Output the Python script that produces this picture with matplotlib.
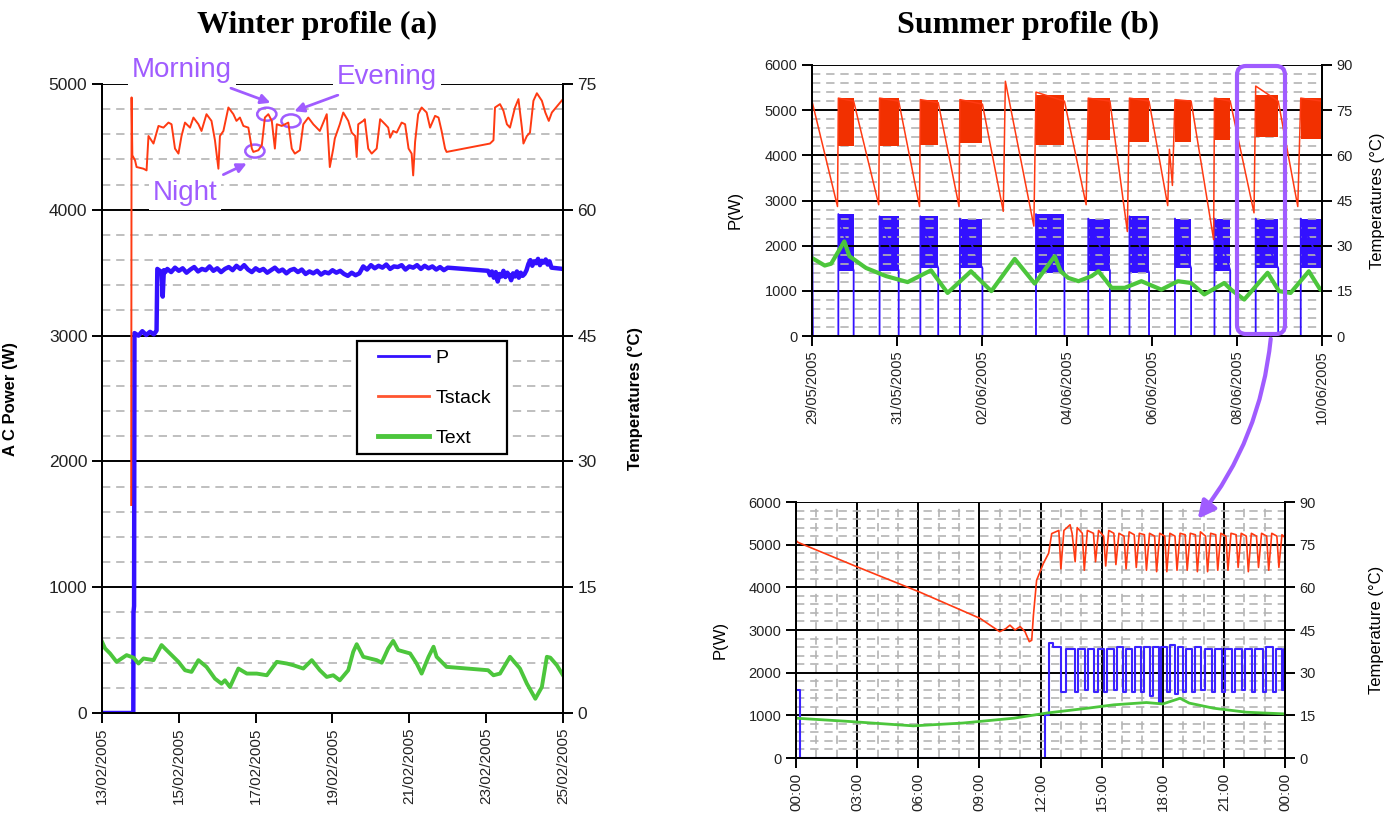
import matplotlib.pyplot as plt
import numpy as np
from matplotlib.lines import Line2D
from matplotlib.patches import Ellipse, FancyBboxPatch, FancyArrowPatch, Rectangle
from matplotlib.ticker import MultipleLocator
from matplotlib.transforms import IdentityTransform

plt.rcParams['font.family'] = ['Liberation Sans', 'DejaVu Sans']

W, H = 1397, 832
P_BLUE = '#3311ff'
T_RED = '#ff3a12'
GREEN = '#4cc63c'
PURPLE = '#a05cff'
GRID_MINOR = '#b4b4b4'

# ---------------- winter profile, x in days from 13/02/2005 ----------------
winter_ticks = [0, 2, 4, 6, 8, 10, 12]
winter_labels = ['13/02/2005', '15/02/2005', '17/02/2005', '19/02/2005',
                 '21/02/2005', '23/02/2005', '25/02/2005']

# AC power: start-up steps, then the noisy plateau sections
winter_p_day = [0, 0.815, 0.82, 0.835, 0.845, 0.95, 1.05, 1.15, 1.25, 1.35,
                1.42, 1.44, 1.55, 1.58, 1.61, 1.65]
winter_p = [0, 0, 800, 850, 3020, 3000, 3035, 3005, 3030, 3010,
            3040, 3530, 3505, 3310, 3520, 3505]
winter_p_run1 = [3530, 3505, 3540, 3515, 3535, 3500, 3525, 3545, 3510, 3530, 3520,
                 3550, 3515, 3535, 3505, 3530, 3545, 3520, 3555, 3530, 3560,
                 3525, 3505, 3535, 3515, 3530, 3500, 3520, 3540, 3510, 3525, 3495,
                 3520, 3530, 3505, 3525, 3490, 3510, 3495, 3515, 3485, 3505, 3495,
                 3520, 3500, 3515,
                 3490, 3475, 3500, 3480, 3495,
                 3550, 3525, 3560, 3535, 3555, 3540, 3565, 3530, 3550, 3545, 3560,
                 3525, 3550, 3540, 3560, 3530, 3555, 3535, 3550, 3525, 3545, 3520, 3540]
winter_p_run2 = [3480, 3510, 3460, 3505, 3430, 3490, 3470, 3515, 3465, 3500,
                 3480, 3440, 3495, 3470, 3510, 3460, 3500, 3475, 3490, 3520]
winter_p_run3 = [3570, 3600, 3555, 3590, 3575, 3610, 3560, 3595, 3580, 3605, 3565, 3590]
winter_p_tail_day = [11.7, 12.0]
winter_p_tail = [3540, 3530]

winter_t_day = [0.76, 0.77, 0.79, 0.86, 0.90, 1.08, 1.16, 1.21, 1.34, 1.47, 1.60, 1.73,
                1.81, 1.90, 1.99, 2.07, 2.16, 2.29, 2.38, 2.51, 2.59, 2.72, 2.85, 2.94,
                3.03, 3.07, 3.16, 3.29, 3.42, 3.50, 3.59, 3.68, 3.81, 3.90, 3.94, 4.07,
                4.16, 4.24, 4.33, 4.42, 4.50, 4.55, 4.68, 4.85, 4.94, 5.02, 5.15, 5.24,
                5.37, 5.50, 5.67, 5.85, 5.93, 6.02, 6.06, 6.19, 6.28, 6.41, 6.50, 6.59,
                6.63, 6.67, 6.80, 6.84, 6.93, 7.02, 7.15, 7.24, 7.37, 7.45, 7.50, 7.58,
                7.67, 7.80, 7.89, 7.98, 8.06, 8.10, 8.15, 8.23, 8.32, 8.45, 8.54, 8.67,
                8.76, 8.84, 8.93, 8.97, 10.10, 10.19, 10.23, 10.36, 10.45, 10.54, 10.62,
                10.75, 10.84, 10.93, 10.97, 11.06, 11.14, 11.23, 11.32, 11.45, 11.54,
                11.63, 11.71, 12.0]
winter_t = [24.8, 73.4, 66.5, 65.9, 65.1, 64.9, 64.7, 68.8, 67.9, 70.0, 69.8, 70.4,
            70.2, 67.3, 66.7, 68.8, 70.4, 69.8, 71.0, 70.2, 69.4, 71.4, 70.6, 68.3,
            64.9, 68.8, 69.4, 72.2, 71.4, 70.6, 71.0, 70.0, 69.8, 67.3, 66.9, 67.1,
            67.7, 71.0, 71.4, 70.6, 67.3, 70.2, 70.0, 70.4, 67.3, 66.7, 67.1, 70.2,
            71.0, 70.2, 69.4, 71.4, 65.1, 67.3, 68.5, 70.2, 71.6, 70.6, 69.2, 68.8,
            66.3, 70.2, 70.6, 70.8, 67.3, 66.7, 67.3, 70.8, 70.2, 69.8, 68.6, 69.4,
            69.2, 70.4, 70.2, 67.3, 66.7, 64.1, 68.1, 71.4, 72.2, 71.6, 69.8, 71.2,
            71.0, 69.4, 67.3, 66.9, 67.9, 68.3, 72.2, 72.6, 71.8, 70.2, 69.8,
            72.2, 73.2, 69.8, 67.9, 68.8, 69.2, 73.0, 73.9, 73.0, 71.6,
            70.6, 71.6, 73.2]

winter_ext_day = [0, 0.08, 0.21, 0.38, 0.64, 0.82, 0.95, 1.08, 1.34, 1.55, 1.68, 1.99,
                  2.16, 2.33, 2.51, 2.72, 2.94, 3.11, 3.20, 3.33, 3.55, 3.77, 4.03, 4.29,
                  4.55, 4.81, 4.98, 5.24, 5.46, 5.67, 5.85, 6.02, 6.19, 6.41, 6.54, 6.63,
                  6.80, 7.15, 7.28, 7.45, 7.58, 7.71, 8.02, 8.19, 8.32, 8.50, 8.63, 8.71,
                  8.97, 10.05, 10.19, 10.36, 10.62, 10.88, 11.06, 11.28, 11.45, 11.58,
                  11.67, 11.84, 12.0]
winter_ext = [8.5, 7.7, 7.1, 6.1, 6.9, 6.6, 5.9, 6.5, 6.3, 8.1, 7.5, 6.1,
              5.1, 4.9, 6.3, 5.5, 4.1, 3.5, 3.9, 3.1, 5.3, 4.7, 4.7, 4.5,
              6.1, 5.9, 5.7, 5.3, 6.3, 5.1, 4.3, 4.5, 3.9, 5.1, 7.3, 8.2,
              6.7, 6.3, 6.0, 7.7, 8.6, 7.5, 7.1, 5.9, 4.7, 6.7, 7.9, 6.7,
              5.5, 5.1, 4.5, 4.7, 6.7, 5.3, 3.5, 1.7, 3.1, 6.7,
              6.6, 5.7, 4.5]

# ---------------- summer profile, x in days from 29/05/2005 ----------------
summer_ticks = [0, 2, 4, 6, 8, 10, 12]
summer_labels = ['29/05/2005', '31/05/2005', '02/06/2005', '04/06/2005',
                 '06/06/2005', '08/06/2005', '10/06/2005']

# daily operating periods: the stack cycles between a low and high level
summer_on = [0.62, 1.59, 2.55, 3.48, 5.27, 6.50, 7.47, 8.54, 9.47, 10.44, 11.50]
summer_off = [0.98, 2.04, 2.97, 4.01, 5.94, 7.01, 7.93, 8.92, 9.84, 10.97, 12.0]
summer_p_low = [1450, 1450, 1500, 1500, 1400, 1450, 1400, 1500, 1450, 1500, 1500]
summer_p_high = [2700, 2650, 2650, 2600, 2700, 2600, 2650, 2600, 2600, 2600, 2600]
summer_t_low = [63, 63, 63.5, 64, 63.5, 65, 64.5, 64.5, 65, 66, 65.5]
summer_t_high = [79, 79, 78.5, 78.5, 80, 79, 79, 78.5, 79, 80, 79]

summer_t_day = [0.00, 0.00, 0.60, 0.62, 0.98, 1.57, 1.59, 2.04, 2.53, 2.55, 2.97, 3.46,
                3.48, 4.01, 4.50, 4.55, 5.22, 5.27, 5.94, 6.45, 6.50, 7.01, 7.42, 7.47,
                7.93, 8.37, 8.41, 8.48, 8.54, 8.92, 9.45, 9.47, 9.84, 10.40, 10.44,
                10.97, 11.43, 11.50, 12.0]
summer_t = [66, 78, 43, 79, 78, 43.6, 79, 78, 43, 78.5, 77.5, 43,
            78.5, 77, 41.4, 84.6, 36.5, 81, 78, 43.6, 79, 78, 34.7, 79,
            78, 43.3, 62, 50, 78.5, 78, 32, 79, 78, 40.9, 83,
            78, 43, 79, 78]
summer_p_start_day = [0.0, 0.01, 0.02]
summer_p_start = [2650, 1600, 0]

summer_ext_day = [0, 0.30, 0.45, 0.76, 0.88, 1.27, 1.74, 2.25, 2.80, 3.19, 3.74, 4.22,
                  4.77, 5.24, 5.71, 5.85, 6.03, 6.27, 6.58, 6.74, 7.05, 7.36, 7.75, 8.22,
                  8.61, 8.92, 9.23, 9.70, 9.86, 10.17, 10.72, 10.99, 11.26, 11.69, 11.96,
                  12.0]
summer_ext = [25.9, 23.4, 24.0, 31.4, 26.5, 22.6, 19.9, 17.9, 21.8, 14.3, 21.5, 14.9,
              25.6, 17.4, 26.5, 21.5, 19.3, 18.2, 19.9, 21.5, 16.0, 16.0, 18.2, 15.4,
              18.2, 17.6, 13.8, 17.6, 15.4, 12.1, 21.0, 14.9, 14.3, 21.5, 15.4,
              15.2]

# ---------------- one summer day (08/06/2005), x in hours ----------------
day_labels = ['00:00', '03:00', '06:00', '09:00', '12:00', '15:00', '18:00', '21:00', '00:00']

day_tstack = [(0, 76.5), (0.1, 75.8), (3.0, 67.2), (6.05, 58.4), (9.03, 49.1), (10.0, 44.4),
              (10.3, 45.5), (10.5, 46.7), (10.75, 45.0), (11.0, 46.2), (11.24, 44.4),
              (11.45, 40.9), (11.57, 41.4), (11.65, 50.0), (11.81, 62.5), (12.14, 68.4),
              (12.4, 72.0), (12.55, 78.9), (12.9, 80), (13.0, 66.5), (13.15, 80),
              (13.45, 82), (13.55, 79), (13.7, 69), (13.8, 81), (14.05, 79), (14.15, 66),
              (14.3, 80), (14.6, 79), (14.7, 69), (14.85, 80), (15.1, 78), (15.2, 67.5),
              (15.35, 80), (15.6, 79), (15.7, 68), (15.85, 79), (16.1, 78), (16.2, 66.5),
              (16.35, 79.5), (16.6, 78.5), (16.7, 67), (16.85, 79), (17.1, 78.5),
              (17.2, 66), (17.35, 79), (17.6, 78), (17.7, 65.5), (17.85, 79), (18.1, 78),
              (18.2, 65.5), (18.35, 79), (18.6, 78), (18.7, 66), (18.85, 79),
              (19.1, 78.5), (19.2, 66), (19.35, 79), (19.6, 78.5), (19.7, 65.5),
              (19.85, 79.5), (20.1, 78), (20.2, 65.5), (20.35, 79), (20.6, 78.5),
              (20.7, 66), (20.85, 79), (21.1, 78), (21.2, 66), (21.35, 79), (21.6, 78.5),
              (21.7, 67), (21.85, 79), (22.1, 78), (22.2, 65.5), (22.35, 79), (22.6, 78),
              (22.7, 67), (22.85, 79), (23.1, 78), (23.2, 66), (23.35, 79), (23.6, 78),
              (23.7, 67), (23.85, 78.5), (24.0, 77.5)]
day_power = [(0, 1600), (0.2, 0), (12.22, 1000), (12.43, 2700), (12.6, 2600), (13.0, 1550),
             (13.25, 2550), (13.7, 1550), (13.85, 2550), (14.2, 1600), (14.35, 2550),
             (14.65, 1550), (14.8, 2550), (15.1, 1550), (15.25, 2550), (15.6, 1600),
             (15.75, 2600), (16.05, 1550), (16.2, 2550), (16.5, 1550), (16.65, 2600),
             (16.95, 1550), (17.1, 2600), (17.35, 1450), (17.5, 2600), (17.8, 1300),
             (17.9, 2600), (18.2, 1550), (18.35, 2650), (18.6, 1500), (18.75, 2600),
             (19.0, 1550), (19.15, 2550), (19.45, 1550), (19.6, 2600), (19.9, 1600),
             (20.05, 2550), (20.4, 1550), (20.55, 2550), (20.9, 1550), (21.05, 2550),
             (21.4, 1550), (21.55, 2550), (21.9, 1600), (22.05, 2550), (22.4, 1550),
             (22.55, 2550), (22.9, 1550), (23.05, 2600), (23.4, 1550), (23.55, 2550),
             (23.85, 1600), (23.95, 2550), (24.0, 2550)]
day_ext = [(0, 14.0), (2.5, 12.9), (5.76, 11.3), (8.2, 12.3), (10.7, 14.0), (12.3, 15.8),
           (14.3, 17.5), (15.6, 18.7), (17.2, 19.5), (18.0, 19.0), (18.85, 21.0),
           (19.3, 19.3), (20.5, 17.5), (22.1, 16.1), (24.0, 15.5)]

fig = plt.figure(figsize=(W / 100, H / 100), dpi=100)


def px_axes(x0, y0, x1, y1):
    return fig.add_axes([x0 / W, 1 - y1 / H, (x1 - x0) / W, (y1 - y0) / H])


def dress(ax, ax2, pmax, tmax, size):
    ax.set_ylim(0, pmax)
    ax2.set_ylim(0, tmax)
    ax.yaxis.set_major_locator(MultipleLocator(1000))
    ax.yaxis.set_minor_locator(MultipleLocator(200))
    ax2.yaxis.set_major_locator(MultipleLocator(15))
    ax.grid(which='major', axis='y', color='black', lw=1.4)
    ax.grid(which='minor', axis='y', color=GRID_MINOR, lw=1.2, ls=(0, (5, 3.5)))
    for a in (ax, ax2):
        a.tick_params(which='minor', length=0)
        a.tick_params(which='major', direction='out', length=7, width=1.4,
                      labelsize=size, labelcolor='#222222')
        a.spines['top'].set_visible(False)
        for s in ('left', 'right', 'bottom'):
            a.spines[s].set_linewidth(1.4)


# ---------------- (a) winter ----------------
axw = px_axes(102, 84, 563, 713)
axw2 = axw.twinx()
dress(axw, axw2, 5000, 75, 12.5)
axw.set_xlim(0, 12)
axw.set_xticks(winter_ticks)
axw.set_xticklabels(winter_labels, rotation=90, fontsize=11)

p_x = (winter_p_day + list(np.linspace(1.7, 9.0, len(winter_p_run1))) + [10.05]
       + list(np.linspace(10.1, 11.05, len(winter_p_run2)))
       + list(np.linspace(11.1, 11.65, len(winter_p_run3))) + winter_p_tail_day)
p_y = winter_p + winter_p_run1 + [3515] + winter_p_run2 + winter_p_run3 + winter_p_tail
axw.plot(p_x, p_y, color=P_BLUE, lw=3.2)
axw2.plot(winter_t_day, winter_t, color=T_RED, lw=1.4)
axw2.plot(winter_ext_day, winter_ext, color=GREEN, lw=2.8)

axw.set_ylabel('A C Power (W)', fontsize=12, fontweight='bold')
axw.yaxis.set_label_coords(-0.182, 0.5)
axw2.set_ylabel('Temperatures (°C)', fontsize=12, fontweight='bold')
axw2.yaxis.set_label_coords(1.139, 0.5)

# legend: unframed entries on a hand-placed white box
axw2.add_patch(Rectangle((357, H - 454), 150, 113, transform=IdentityTransform(),
                         fc='white', ec='black', lw=1.6, zorder=4.9, clip_on=False))
handles = [Line2D([], [], color=P_BLUE, lw=2), Line2D([], [], color='#ff5530', lw=2),
           Line2D([], [], color=GREEN, lw=3.5)]
leg = axw2.legend(handles, ['P', 'Tstack', 'Text'], loc='upper left',
                  bbox_to_anchor=(378 / W, 1 - 349 / H), bbox_transform=fig.transFigure,
                  fontsize=14, handlelength=2.6, handletextpad=0.35,
                  labelspacing=1.15, borderpad=0, borderaxespad=0, frameon=False)
leg.set_zorder(5)

# marked operating points
for cx, cy in [(4.29, 71.4), (4.92, 70.6), (3.98, 67.0)]:
    axw2.add_patch(Ellipse((cx, cy), 0.5, 1.55, fill=False, ec=PURPLE, lw=1.8))
arrow_kw = dict(arrowstyle='-|>', color=PURPLE, lw=2, mutation_scale=14, shrinkB=1)
text_kw = dict(textcoords='figure pixels', ha='center', va='center', fontsize=20,
               color=PURPLE, annotation_clip=False,
               bbox=dict(fc='white', ec='none', pad=3))
axw2.annotate('Morning', xy=(4.42, 72.7), xytext=(182, H - 70), arrowprops=arrow_kw, **text_kw)
axw2.annotate('Evening', xy=(4.97, 71.7), xytext=(387, H - 77), arrowprops=arrow_kw, **text_kw)
axw2.annotate('Night', xy=(3.80, 65.6), xytext=(185, H - 193), arrowprops=arrow_kw, **text_kw)

# ---------------- (b) summer, twelve days ----------------
axs = px_axes(812, 65, 1322, 336)
axs2 = axs.twinx()
dress(axs, axs2, 6000, 90, 10.5)
axs.set_xlim(0, 12)
axs.set_xticks(summer_ticks)
axs.set_xticklabels(summer_labels, rotation=90, fontsize=10.5)

sp_x, sp_y = list(summer_p_start_day), list(summer_p_start)
for on, off, lo, hi in zip(summer_on, summer_off, summer_p_low, summer_p_high):
    sp_x += [on, on, off, off]
    sp_y += [0, hi, lo, 0]
    axs.fill_between([on, off], lo, hi, color=P_BLUE, lw=0)
axs.plot(sp_x, sp_y, color=P_BLUE, lw=1.3)
for on, off, lo, hi in zip(summer_on, summer_off, summer_t_low, summer_t_high):
    axs2.fill_between([on, off], lo, hi, color='#f23000', lw=0)
axs2.plot(summer_t_day, summer_t, color=T_RED, lw=1.1)
axs2.plot(summer_ext_day, summer_ext, color=GREEN, lw=3)

axs.set_ylabel('P(W)', fontsize=12)
axs.yaxis.set_label_coords(-0.137, 0.465)
axs2.set_ylabel('Temperatures (°C)', fontsize=12)
axs2.yaxis.set_label_coords(1.095, 0.5)

# ---------------- (b) zoom on a single day ----------------
axd = px_axes(796, 502, 1285, 758)
axd2 = axd.twinx()
dress(axd, axd2, 6000, 90, 10.5)
axd.set_xlim(0, 24)
axd.xaxis.set_major_locator(MultipleLocator(3))
axd.xaxis.set_minor_locator(MultipleLocator(1))
axd.grid(which='major', axis='x', color='black', lw=1.4)
axd.grid(which='minor', axis='x', color=GRID_MINOR, lw=1.2, ls=(0, (5, 3.5)))
axd.set_xticks(np.arange(0, 25, 3))
axd.set_xticklabels(day_labels, rotation=90, fontsize=11)

h_t, v_t = zip(*day_tstack)
h_p, v_p = zip(*day_power)
h_e, v_e = zip(*day_ext)
axd.plot(h_p, v_p, color='#3b22ff', lw=1.5, drawstyle='steps-post')
axd2.plot(h_t, v_t, color=T_RED, lw=1.2)
axd2.plot(h_e, v_e, color=GREEN, lw=2)

axd.set_ylabel('P(W)', fontsize=12)
axd.yaxis.set_label_coords(-0.139, 0.46)
axd2.set_ylabel('Temperature (°C)', fontsize=12)
axd2.yaxis.set_label_coords(1.172, 0.5)

# highlight of 08/06 and pointer to the detailed day
fig.add_artist(FancyBboxPatch((1237, H - 334), 48, 268,
                              boxstyle='round,pad=0,rounding_size=9',
                              transform=IdentityTransform(), fill=False,
                              ec=PURPLE, lw=3))
fig.add_artist(FancyArrowPatch((1271, H - 336), (1196, H - 521),
                               connectionstyle='arc3,rad=-0.15', arrowstyle='-|>',
                               mutation_scale=26, lw=3, color=PURPLE,
                               transform=IdentityTransform()))

fig.text(317 / W, 1 - 25 / H, 'Winter profile (a)', fontfamily='Liberation Serif',
         fontweight='bold', fontsize=23, ha='center', va='center')
fig.text(1028 / W, 1 - 25 / H, 'Summer profile (b)', fontfamily='Liberation Serif',
         fontweight='bold', fontsize=23, ha='center', va='center')

fig.savefig('out.png', dpi=100)
